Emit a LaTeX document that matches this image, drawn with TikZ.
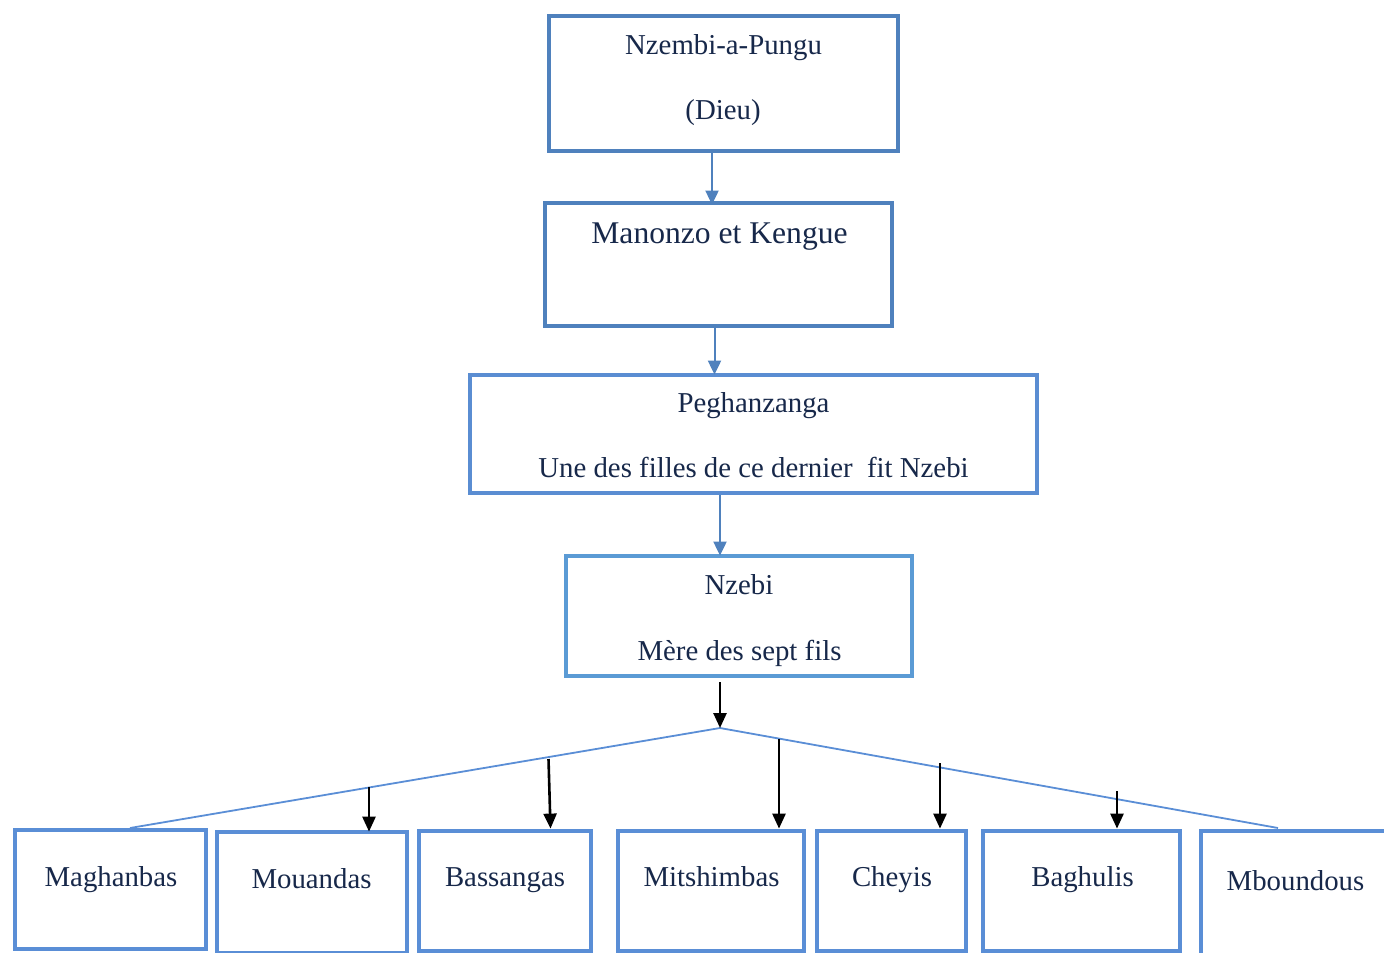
\documentclass[tikz,border=0pt]{standalone}
\usepackage{fontspec}
\setmainfont{Liberation Serif}
\usetikzlibrary{arrows.meta}
\definecolor{txt}{HTML}{17284A}
\definecolor{bdark}{HTML}{4F81BD}
\definecolor{bmid}{HTML}{5A8DD2}
\definecolor{blight}{HTML}{5B9BD5}
\definecolor{bbot}{HTML}{5A8ED6}
\tikzset{
  box/.style={draw, line width=2.4pt, rectangle, inner sep=0pt, fill=white},
  lbl/.style={anchor=base, inner sep=0pt, text=txt, font=\fontsize{14.4}{16}\selectfont},
  biglbl/.style={anchor=base, inner sep=0pt, text=txt, font=\fontsize{15.8}{18}\selectfont},
  bluearrow/.style={draw=bdark, line width=1pt, -{Triangle[length=7pt,width=6.5pt]}},
  blackarrow/.style={draw=black, line width=1.3pt, -{Triangle[length=7.5pt,width=6.5pt]}},
  spread/.style={draw=bbot, line width=0.9pt}
}
\begin{document}
\begin{tikzpicture}[x=0.5pt,y=-0.5pt]
\useasboundingbox (0,0) rectangle (1384,952);
\clip (0,0) rectangle (1384,952);
% top boxes
\node[box, draw=bdark, minimum width=174.5pt, minimum height=67.5pt] (b1) at (723.5,83.5) {};
\node[box, draw=bdark, minimum width=173.5pt, minimum height=61.5pt] (b2) at (718.5,264.5) {};
\node[box, draw=bmid, minimum width=283.5pt, minimum height=59pt] (b3) at (753.5,434) {};
\node[box, draw=blight, minimum width=173pt, minimum height=60pt] (b4) at (739,616) {};
% texts
\node[lbl] (t1a) at (723.5,55) {Nzembi-a-Pungu};
\node[lbl] (t1b) at (723,120) {(Dieu)};
\node[biglbl] (t2) at (719.5,243) {Manonzo et Kengue};
\node[lbl] (t3a) at (753.5,412) {Peghanzanga};
\node[lbl] (t3b) at (753.5,477) {Une des filles de ce dernier\ \ fit Nzebi};
\node[lbl] (t4a) at (739,594) {Nzebi};
\node[lbl] (t4b) at (739.5,660) {Mère des sept fils};
% bottom boxes
\node[box, draw=bbot, minimum width=95.5pt, minimum height=59.5pt] (m1) at (110.5,889.5) {};
\node[box, draw=bbot, minimum width=95pt, minimum height=60.5pt] (m2) at (312,892.5) {};
\node[box, draw=bbot, minimum width=86pt, minimum height=60pt] (m3) at (505,891) {};
\node[box, draw=bbot, minimum width=93pt, minimum height=60pt] (m4) at (711,891) {};
\node[box, draw=bbot, minimum width=74.5pt, minimum height=60pt] (m5) at (891.5,891) {};
\node[box, draw=bbot, minimum width=98.5pt, minimum height=60pt] (m6) at (1081.5,891) {};
\node[box, draw=bbot, minimum width=99.5pt, minimum height=64.5pt] (m7) at (1300.5,895.5) {};
\node[lbl] (l1) at (111,886) {Maghanbas};
\node[lbl] (l2) at (311.5,888) {Mouandas};
\node[lbl] (l3) at (505,886) {Bassangas};
\node[lbl] (l4) at (711.5,886) {Mitshimbas};
\node[lbl] (l5) at (892,886) {Cheyis};
\node[lbl] (l6) at (1082.5,886) {Baghulis};
\node[lbl] (l7) at (1295.5,890) {Mboundous};
% blue arrows
\coordinate (c1) at (712,0);
\coordinate (c2) at (714.5,0);
\coordinate (c3) at (720,0);
\draw[bluearrow] (b1.south -| c1) -- ([yshift=-2pt]b2.north -| c1);
\draw[bluearrow] (b2.south -| c2) -- ([yshift=-1pt]b3.north -| c2);
\draw[bluearrow] (b3.south -| c3) -- ([yshift=-1pt]b4.north -| c3);
% black arrow to apex
\coordinate (top) at (720,682);
\coordinate (apex) at (720,728);
\coordinate (leftend) at (130,828);
\coordinate (rightend) at (1278,828);
\draw[spread] (leftend) -- (apex) -- (rightend);
\draw[blackarrow] (top) -- (apex);
% branch arrows
\coordinate (s2) at (369,787);
\coordinate (s3) at (548.5,759);
\coordinate (s4) at (779,739);
\coordinate (s5) at (940,763);
\coordinate (s6) at (1117,791);
\draw[blackarrow] (s2) -- ([yshift=-1pt]m2.north -| s2);
\draw[blackarrow] (s3) -- ([xshift=1pt]m3.north -| s3);
\draw[blackarrow] (s4) -- (m4.north -| s4);
\draw[blackarrow] (s5) -- (m5.north -| s5);
\draw[blackarrow] (s6) -- (m6.north -| s6);
\end{tikzpicture}
\end{document}
